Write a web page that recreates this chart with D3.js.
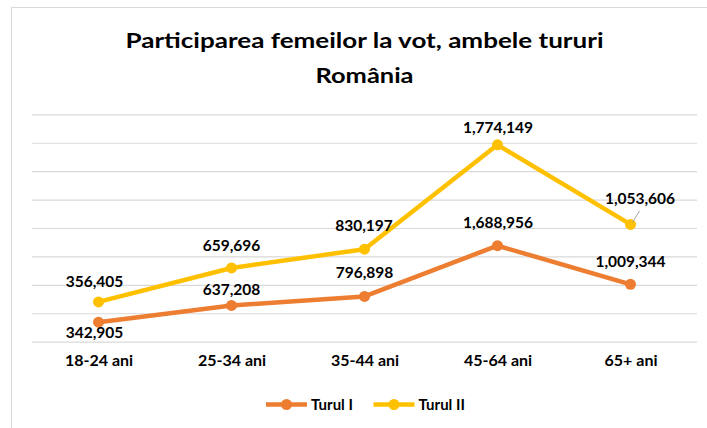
<!DOCTYPE html>
<meta charset="utf-8">
<script src="https://d3js.org/d3.v7.min.js"></script>
<style>
  body { margin: 0; background: #fff; }
  text { font-family: Lato, "Open Sans", sans-serif; font-weight: bold; fill: #000; }
</style>
<div id="chart"></div>
<script>

// data
var categories = ["18-24 ani", "25-34 ani", "35-44 ani", "45-64 ani", "65+ ani"];
var turulI = [342905, 637208, 796898, 1688956, 1009344];
var turulII = [356405, 659696, 830197, 1774149, 1053606];
var seriesNames = ["Turul I", "Turul II"];
var seriesColors = ["#ED7D31", "#FFC000"];

// label nudges (dx, dy from the point to the text baseline)
var labelOffsets = [
  [[-4, 16], [0, -10.7], [0, -18.4], [0.5, -17.4], [0, -17.3]],
  [[-4, -15.4], [0, -17.3], [-0.5, -17.8], [0.5, -11.7], [9.5, -20.3]]
];

var W = 707, H = 428;
var plot = {left: 32, right: 697, top: 114.3, bottom: 341.7};

var svg = d3.select("#chart").append("svg")
  .attr("width", W).attr("height", H);

// chart border
svg.append("rect")
  .attr("x", 11.5).attr("y", 7.5)
  .attr("width", 760).attr("height", 460)
  .attr("fill", "#fff")
  .attr("stroke", "#D9D9D9");

// title
svg.append("text")
  .attr("x", 364.5).attr("y", 48)
  .attr("text-anchor", "middle")
  .attr("font-size", 21.5)
  .attr("textLength", 478)
  .attr("lengthAdjust", "spacingAndGlyphs")
  .text("Participarea femeilor la vot, ambele tururi");
svg.append("text")
  .attr("x", 364.5).attr("y", 82.5)
  .attr("text-anchor", "middle")
  .attr("font-size", 21.5)
  .attr("textLength", 98)
  .attr("lengthAdjust", "spacingAndGlyphs")
  .text("România");

var x = d3.scalePoint()
  .domain(categories)
  .range([plot.left, plot.right])
  .padding(0.5);

var y = d3.scaleLinear()
  .domain([0, 4000000])
  .range([plot.bottom, plot.top]);

// gridlines
var grid = svg.append("g")
  .attr("transform", "translate(" + plot.left + ",0)")
  .call(d3.axisLeft(y).ticks(8).tickSize(-(plot.right - plot.left)).tickFormat(""));
grid.select(".domain").remove();
grid.selectAll("line").attr("stroke", "#D9D9D9").attr("stroke-width", 1.2);

// x axis labels
var xAxis = svg.append("g")
  .attr("transform", "translate(0," + plot.bottom + ")")
  .call(d3.axisBottom(x).tickSize(0).tickPadding(18));
xAxis.select(".domain").remove();
xAxis.selectAll("text")
  .attr("font-size", 16)
  .attr("font-family", "Lato, sans-serif")
  .attr("fill", "#000")
  .attr("dy", "0.4em");

// stacked lines
var rows = categories.map(function(c, i) {
  return {cat: c, "Turul I": turulI[i], "Turul II": turulII[i]};
});
var stacked = d3.stack().keys(seriesNames)(rows);

var line = d3.line()
  .x(function(d) { return x(d.data.cat); })
  .y(function(d) { return y(d[1]); });

stacked.forEach(function(s, k) {
  svg.append("path")
    .datum(s)
    .attr("fill", "none")
    .attr("stroke", seriesColors[k])
    .attr("stroke-width", 4.5)
    .attr("stroke-linejoin", "round")
    .attr("d", line);

  svg.selectAll(".dot" + k)
    .data(s)
    .enter().append("circle")
    .attr("cx", function(d) { return x(d.data.cat); })
    .attr("cy", function(d) { return y(d[1]); })
    .attr("r", 5.5)
    .attr("fill", seriesColors[k]);
});

// leader line for the last Turul II label
var last = stacked[1][4];
svg.append("line")
  .attr("x1", x(last.data.cat) + 9).attr("y1", y(last[1]) - 13.5)
  .attr("x2", x(last.data.cat) + 2).attr("y2", y(last[1]) - 2)
  .attr("stroke", "#A6A6A6")
  .attr("stroke-width", 1);

// data labels
var fmt = d3.format(",");
stacked.forEach(function(s, k) {
  svg.selectAll(".lbl" + k)
    .data(s)
    .enter().append("text")
    .attr("x", function(d, i) { return x(d.data.cat) + labelOffsets[k][i][0]; })
    .attr("y", function(d, i) { return y(d[1]) + labelOffsets[k][i][1]; })
    .attr("text-anchor", "middle")
    .attr("font-size", 15.5)
    .text(function(d) { return fmt(d.data[seriesNames[k]]); });
});

// legend
var legendX = [266, 373.5];
seriesNames.forEach(function(name, k) {
  var g = svg.append("g").attr("transform", "translate(" + legendX[k] + ",404.5)");
  g.append("line")
    .attr("x1", 0).attr("x2", 41)
    .attr("stroke", seriesColors[k])
    .attr("stroke-width", 4.5);
  g.append("circle")
    .attr("cx", 20.5).attr("r", 5.5)
    .attr("fill", seriesColors[k]);
  g.append("text")
    .attr("x", 45).attr("y", 5.3)
    .attr("font-size", 15)
    .text(name);
});

</script>
